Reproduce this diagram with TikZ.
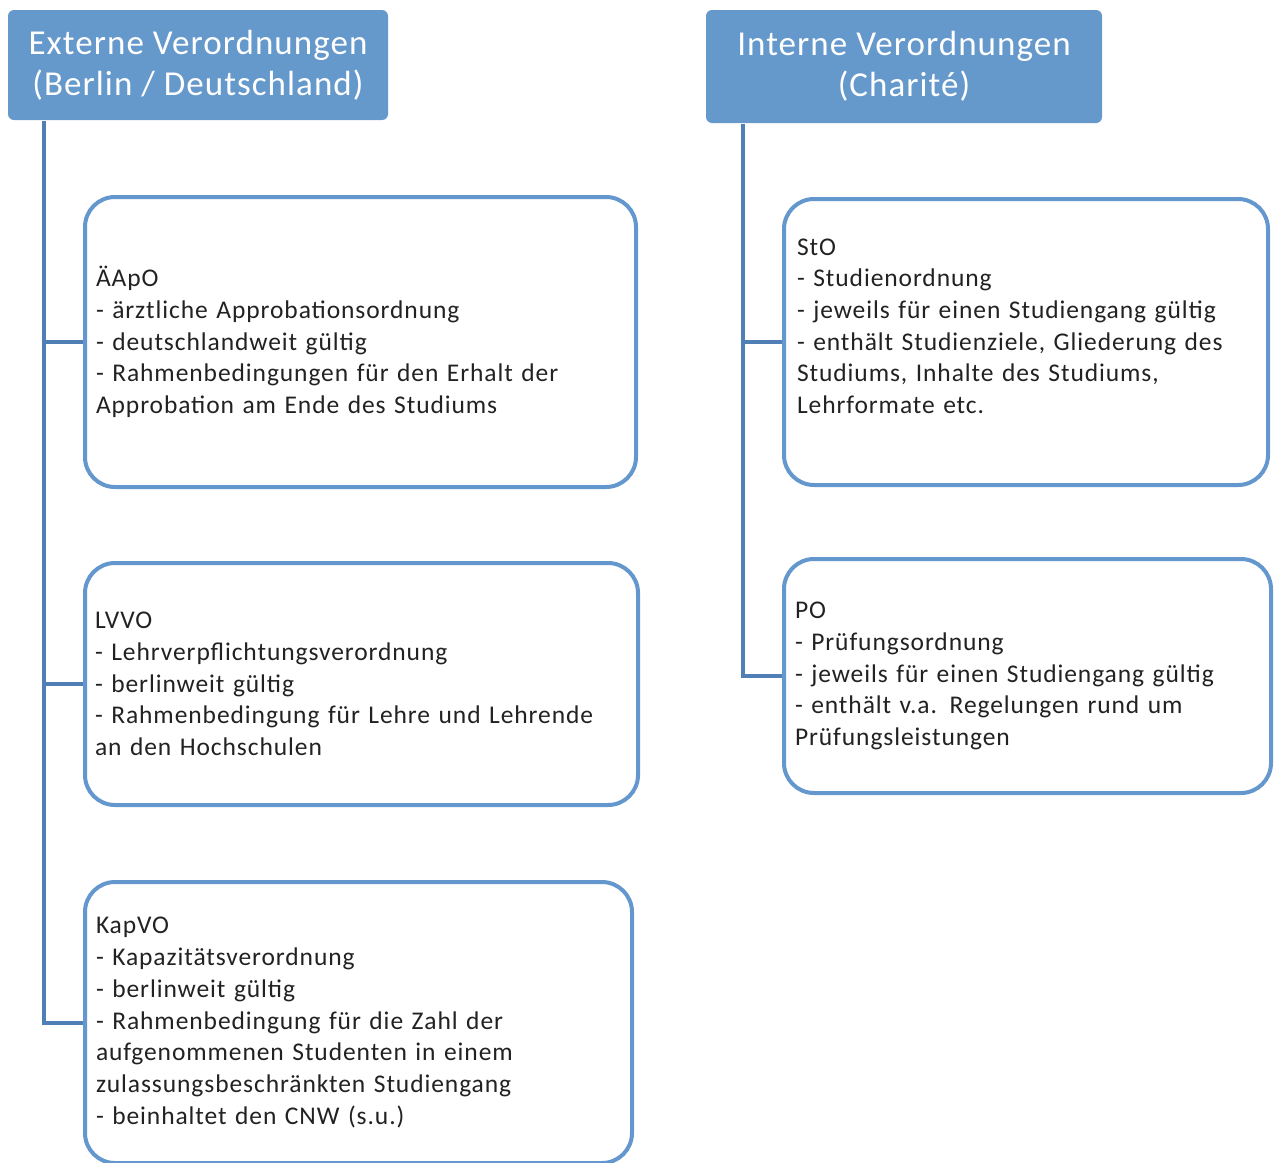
\documentclass[tikz,border=0pt]{standalone}
\usepackage{fontspec}
\setmainfont{Carlito}
\newfontfamily\boxfont[LetterSpace=3.6]{Carlito}
\newfontfamily\hdrfont[LetterSpace=3]{Carlito}
\definecolor{hdr}{HTML}{6598CB}
\definecolor{conn}{HTML}{4F7FB4}
\definecolor{bord}{HTML}{6497CD}
\definecolor{txt}{HTML}{222222}
\begin{document}
\begin{tikzpicture}[x=1pt,y=-1pt,
  header/.style={fill=hdr, draw=none, rounded corners=6pt, text=white, align=center,
    font=\hdrfont\fontsize{35}{41}\selectfont, inner sep=0pt},
  infobox/.style={draw=bord, line width=4pt, rounded corners=30pt, fill=white, text=txt,
    align=left, font=\boxfont\fontsize{25.5}{31.7}\selectfont, inner ysep=0pt, anchor=center},
  conn/.style={draw=conn, line width=4pt}]
\useasboundingbox (0,0) rectangle (1276,1162);
\node[header, minimum width=380pt, minimum height=110pt] (h1) at (198,65)
  {Externe Verordnungen\\(Berlin / Deutschland)};
\node[header, minimum width=396pt, minimum height=113pt] (h2) at (904,66.5)
  {Interne Verordnungen\\(Charité)};
\node[infobox, minimum height=290pt, inner xsep=11pt, text width=529pt] (b1) at (360.5,342)
  {ÄApO\\- ärztliche Approbationsordnung\\- deutschlandweit gültig\\- Rahmenbedingungen für den Erhalt der\\Approbation am Ende des Studiums};
\node[infobox, minimum height=242pt, inner xsep=10pt, text width=533pt] (b2) at (361.5,684)
  {LVVO\\- Lehrverpflichtungsverordnung\\- berlinweit gültig\\- Rahmenbedingung für Lehre und Lehrende\\an den Hochschulen};
\node[infobox, minimum height=281pt, inner xsep=11pt, text width=525pt] (b3) at (358.5,1022.5)
  {KapVO\\- Kapazitätsverordnung\\- berlinweit gültig\\- Rahmenbedingung für die Zahl der\\aufgenommenen Studenten in einem\\zulassungsbeschränkten Studiengang\\- beinhaltet den CNW (s.u.)};
\node[infobox, minimum height=286pt, inner xsep=13pt, text width=458pt] (sto) at (1026,342)
  {StO\\- Studienordnung\\- jeweils für einen Studiengang gültig\\- enthält Studienziele, Gliederung des\\Studiums, Inhalte des Studiums,\\Lehrformate etc.\\\mbox{}};
\node[infobox, minimum height=234pt, inner xsep=11pt, text width=465pt] (po) at (1027.5,676)
  {PO\\- Prüfungsordnung\\- jeweils für einen Studiengang gültig\\- enthält v.a. Regelungen rund um\\Prüfungsleistungen};
\coordinate (lt) at (44,121);
\coordinate (rt) at (743,124);
\draw[conn] (lt) |- (b3.west);
\draw[conn] (lt |- b1.west) -- (b1.west);
\draw[conn] (lt |- b2.west) -- (b2.west);
\draw[conn] (rt) |- (po.west);
\draw[conn] (rt |- sto.west) -- (sto.west);
\end{tikzpicture}
\end{document}
